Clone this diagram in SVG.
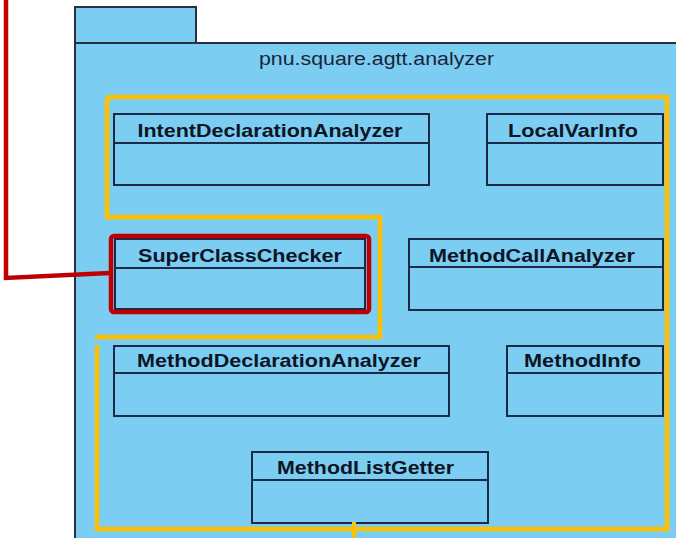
<svg xmlns="http://www.w3.org/2000/svg" width="676" height="538" viewBox="0 0 676 538">
<style>
.pkg{fill:#7BCDF2;stroke:#26303f;stroke-width:2}
.cls{fill:#7BCDF2;stroke:#1c2a48;stroke-width:2}
.sep{stroke:#1c2a48;stroke-width:2}
.name{font-family:"Liberation Sans",Arial,sans-serif;font-weight:bold;font-size:19px;fill:#0d1424;text-anchor:middle}
.plabel{font-family:"Liberation Sans",Arial,sans-serif;font-size:18px;fill:#1a2438;text-anchor:middle}
.hl{fill:none;stroke:#FFC000;stroke-width:4.5}
.red{fill:none;stroke:#C00000;stroke-width:4.5}
</style>
<rect width="676" height="538" fill="#ffffff"/>
<g id="package">
<rect class="pkg" x="75" y="7" width="121" height="36"/>
<path class="pkg" d="M75,43 H680 V545 H75 Z"/>
<text class="plabel" x="376.5" y="65" textLength="235" lengthAdjust="spacingAndGlyphs">pnu.square.agtt.analyzer</text>
</g>
<g id="IntentDeclarationAnalyzer">
<rect class="cls" x="114" y="114" width="315" height="71"/>
<line class="sep" x1="114" y1="143" x2="429" y2="143"/>
<text class="name" x="270" y="137" textLength="265" lengthAdjust="spacingAndGlyphs">IntentDeclarationAnalyzer</text>
</g>
<g id="LocalVarInfo">
<rect class="cls" x="487" y="114" width="176" height="71"/>
<line class="sep" x1="487" y1="143" x2="663" y2="143"/>
<text class="name" x="573" y="137" textLength="130" lengthAdjust="spacingAndGlyphs">LocalVarInfo</text>
</g>
<g id="SuperClassChecker">
<rect class="cls" x="115" y="239" width="250" height="70"/>
<line class="sep" x1="115" y1="268" x2="365" y2="268"/>
<text class="name" x="240" y="262" textLength="204" lengthAdjust="spacingAndGlyphs">SuperClassChecker</text>
</g>
<g id="MethodCallAnalyzer">
<rect class="cls" x="409" y="239" width="254" height="71"/>
<line class="sep" x1="409" y1="267" x2="663" y2="267"/>
<text class="name" x="532" y="262" textLength="206" lengthAdjust="spacingAndGlyphs">MethodCallAnalyzer</text>
</g>
<g id="MethodDeclarationAnalyzer">
<rect class="cls" x="114" y="346" width="335" height="70"/>
<line class="sep" x1="114" y1="373" x2="449" y2="373"/>
<text class="name" x="279" y="367" textLength="284" lengthAdjust="spacingAndGlyphs">MethodDeclarationAnalyzer</text>
</g>
<g id="MethodInfo">
<rect class="cls" x="507" y="346" width="156" height="70"/>
<line class="sep" x1="507" y1="373" x2="663" y2="373"/>
<text class="name" x="582.5" y="367" textLength="117" lengthAdjust="spacingAndGlyphs">MethodInfo</text>
</g>
<g id="MethodListGetter">
<rect class="cls" x="252" y="452" width="236" height="71"/>
<line class="sep" x1="252" y1="480" x2="488" y2="480"/>
<text class="name" x="365.5" y="474" textLength="177" lengthAdjust="spacingAndGlyphs">MethodListGetter</text>
</g>
<g id="highlights">
<path class="hl" d="M107,97 H667 V529 H97 V345 M95,337 H380 V217 H107 V97"/>
<rect class="red" x="111" y="236" width="258" height="76" rx="3"/>
</g>
<g id="connectors">
<polyline class="red" points="6,0 6,278 110,273" stroke-width="3.5"/>
<line x1="354" y1="522" x2="354" y2="538" stroke="#FFC000" stroke-width="4"/>
</g>
</svg>
